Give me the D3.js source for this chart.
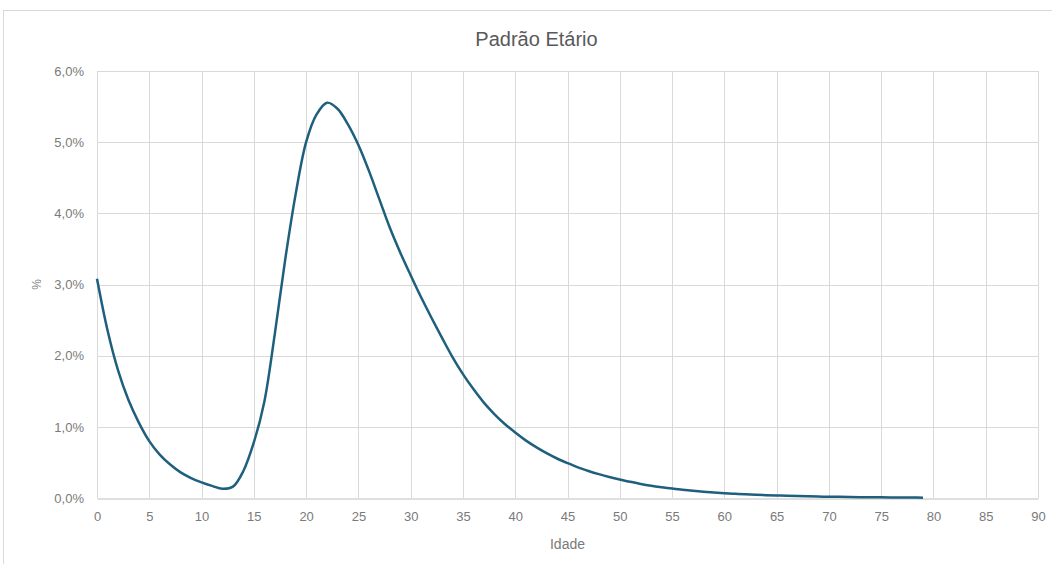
<!DOCTYPE html>
<html>
<head>
<meta charset="utf-8">
<script src="https://cdn.jsdelivr.net/npm/d3@7"></script>
<style>
  html, body { margin: 0; padding: 0; background: #ffffff; }
  svg { display: block; }
  text { font-family: "Liberation Sans", Arial, sans-serif; }
</style>
</head>
<body>
<script>
// ---- data ----
const ages = d3.range(0, 80);
const shares = [
  3.08, 2.36, 1.80, 1.38, 1.06, 0.80, 0.61, 0.47, 0.36, 0.28,
  0.22, 0.17, 0.13, 0.16, 0.38, 0.78, 1.35, 2.30, 3.35, 4.27,
  5.00, 5.39, 5.555, 5.47, 5.25, 4.96, 4.60, 4.20, 3.80, 3.45,
  3.13, 2.82, 2.53, 2.25, 1.98, 1.74, 1.53, 1.34, 1.18, 1.04,
  0.92, 0.81, 0.715, 0.63, 0.555, 0.49, 0.43, 0.38, 0.335, 0.295,
  0.26, 0.227, 0.198, 0.173, 0.152, 0.133, 0.117, 0.102, 0.089, 0.078,
  0.068, 0.060, 0.052, 0.046, 0.040, 0.035, 0.031, 0.027, 0.023, 0.020,
  0.018, 0.016, 0.014, 0.012, 0.011, 0.009, 0.008, 0.007, 0.006, 0.005
];
const xTicks = d3.range(0, 91, 5);
const yTicks = [0, 1, 2, 3, 4, 5, 6];
const title = "Padrão Etário";
const xTitle = "Idade";
const yTitle = "%";

// ---- layout ----
const W = 1052, H = 564;
const plot = { left: 97, right: 1038, top: 71, bottom: 498 };

const svg = d3.select("body").append("svg").attr("width", W).attr("height", H);

svg.append("rect")
  .attr("x", 3.5).attr("y", 10.5).attr("width", 1060).attr("height", 570)
  .attr("fill", "#ffffff").attr("stroke", "#d9d9d9").attr("stroke-width", 1);

const x = d3.scaleLinear().domain([0, 90]).range([plot.left, plot.right]);
const y = d3.scaleLinear().domain([0, 6]).range([plot.bottom, plot.top]);

// gridlines
svg.append("g").selectAll("line").data(xTicks).join("line")
  .attr("x1", d => Math.round(x(d)) + 0.5).attr("x2", d => Math.round(x(d)) + 0.5)
  .attr("y1", plot.top).attr("y2", plot.bottom)
  .attr("stroke", "#d9d9d9").attr("stroke-width", 1);
svg.append("g").selectAll("line").data(yTicks.filter(d => d > 0)).join("line")
  .attr("x1", plot.left).attr("x2", plot.right)
  .attr("y1", d => Math.round(y(d)) + 0.5).attr("y2", d => Math.round(y(d)) + 0.5)
  .attr("stroke", "#d9d9d9").attr("stroke-width", 1);

// x axis
const xAxis = d3.axisBottom(x).tickValues(xTicks).tickSize(0).tickPadding(13);
const gx = svg.append("g").attr("transform", `translate(0,${Math.round(plot.bottom) + 0.5})`).call(xAxis);
gx.select(".domain").attr("stroke", "#bfbfbf").attr("stroke-width", 1);
gx.selectAll("text").attr("fill", "#7a7a7a").style("font-size", "13px")
  .style("font-family", "'Liberation Sans', Arial, sans-serif");

// y axis
const fmt = d => d.toFixed(1).replace(".", ",") + "%";
const yAxis = d3.axisLeft(y).tickValues(yTicks).tickFormat(fmt).tickSize(0).tickPadding(13);
const gy = svg.append("g").attr("transform", `translate(${plot.left},0)`).call(yAxis);
gy.select(".domain").remove();
gy.selectAll("text").attr("fill", "#7a7a7a").style("font-size", "13px")
  .style("font-family", "'Liberation Sans', Arial, sans-serif");

// line
const line = d3.line()
  .x((d, i) => x(ages[i]))
  .y(d => y(d))
  .curve(d3.curveCatmullRom.alpha(0.5));
svg.append("path").datum(shares)
  .attr("d", line)
  .attr("fill", "none")
  .attr("stroke", "#1f5f7e")
  .attr("stroke-width", 2.5)
  .attr("stroke-linejoin", "round");

// titles
svg.append("text").attr("x", 536.5).attr("y", 46)
  .attr("text-anchor", "middle").attr("fill", "#595959").style("font-size", "20px")
  .text(title);
svg.append("text").attr("x", (plot.left + plot.right) / 2).attr("y", 549)
  .attr("text-anchor", "middle").attr("fill", "#7a7a7a").style("font-size", "14px")
  .text(xTitle);
svg.append("text")
  .attr("transform", `translate(41,${(plot.top + plot.bottom) / 2}) rotate(-90)`)
  .attr("text-anchor", "middle").attr("fill", "#8a8a8a").style("font-size", "12px")
  .text(yTitle);
</script>
</body>
</html>
